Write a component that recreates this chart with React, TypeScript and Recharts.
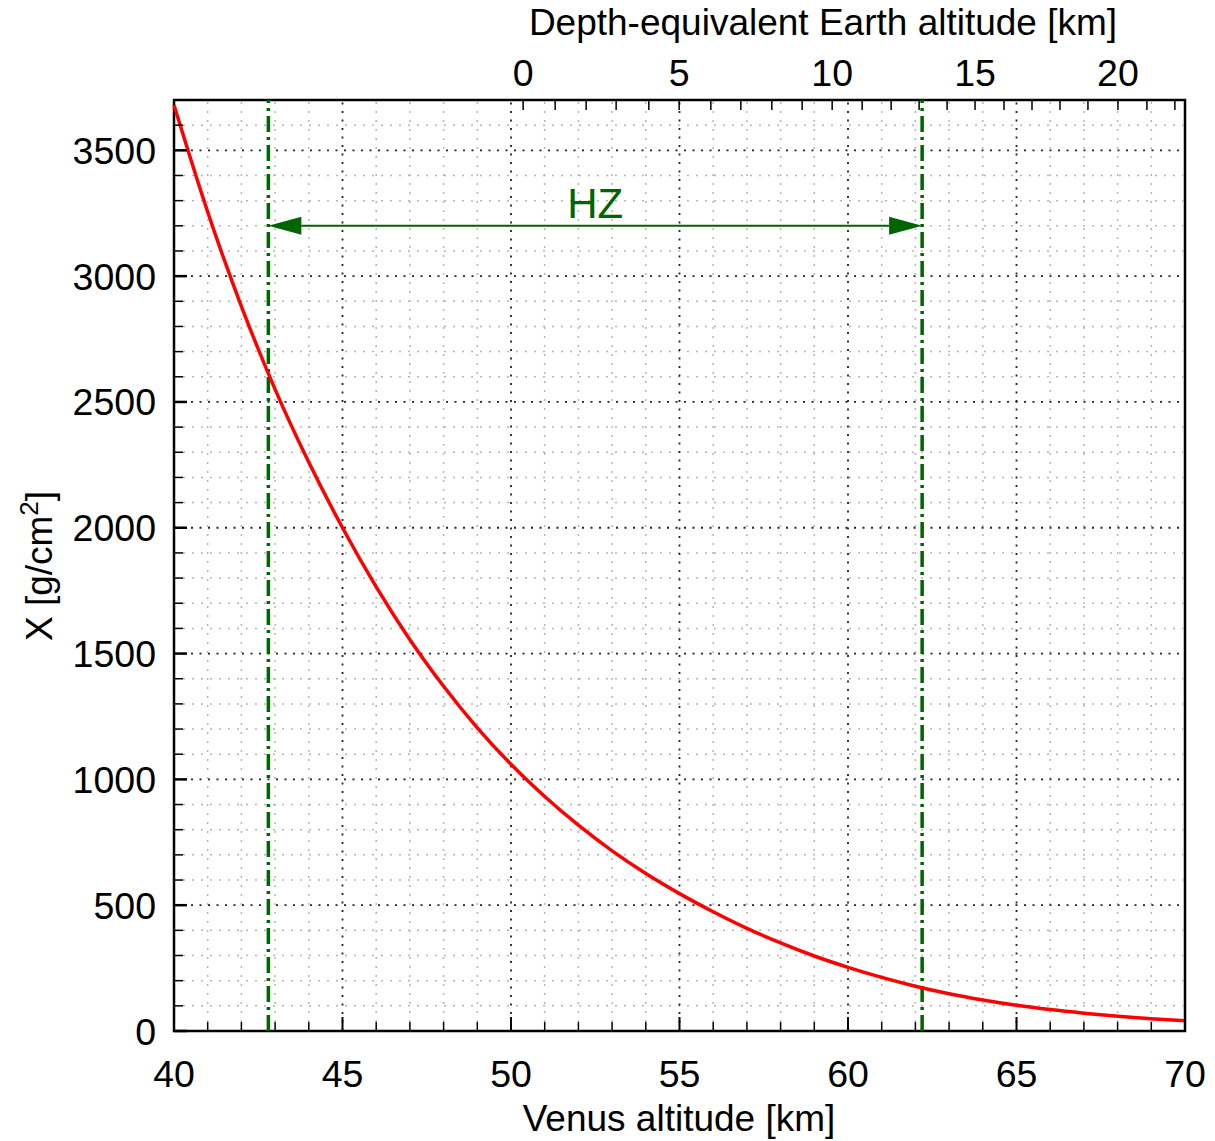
import { Line, LineChart, ReferenceArea, ReferenceLine, XAxis, YAxis } from "recharts";

// Venus altitude [km] and column depth X [g/cm^2]
const venusAltitude = [
  40, 41, 42, 43, 44, 45, 46, 47, 48, 49, 50, 51, 52, 53, 54, 55,
  56, 57, 58, 59, 60, 61, 62, 63, 64, 65, 66, 67, 68, 69, 70,
];
const columnDepth = [
  3680, 3255, 2880, 2550, 2260, 2000, 1765, 1555, 1370, 1205, 1060, 932, 818, 716, 626, 546,
  474, 408, 350, 298, 253, 213, 178, 148, 123, 102, 85, 71, 59, 49, 41,
];

// top axis: Earth altitude [km] and the Venus altitude where each tick sits
const earthAltitude = [0, 1, 2, 3, 4, 5, 6, 7, 8, 9, 10, 11, 12, 13, 14, 15, 16, 17, 18, 19, 20, 21, 22];
const earthAtVenus = [
  50.36, 51.31, 52.23, 53.12, 54.09, 54.99, 55.93, 56.82, 57.74, 58.64, 59.53, 60.42,
  61.28, 62.11, 62.94, 63.77, 64.63, 65.46, 66.29, 67.12, 68.01, 68.87, 69.7,
];

const bottomTicks = [40, 41, 42, 43, 44, 45, 46, 47, 48, 49, 50, 51, 52, 53, 54, 55, 56, 57, 58, 59, 60, 61, 62, 63, 64, 65, 66, 67, 68, 69, 70];
const leftTicks = [
  0, 100, 200, 300, 400, 500, 600, 700, 800, 900, 1000, 1100, 1200, 1300, 1400, 1500, 1600, 1700, 1800,
  1900, 2000, 2100, 2200, 2300, 2400, 2500, 2600, 2700, 2800, 2900, 3000, 3100, 3200, 3300, 3400, 3500, 3600,
];

// habitable zone bounds and the arrow height
const hzBounds = [42.8, 62.2];
const hzArrowLevel = 3200;

const data = venusAltitude.map((h, i) => ({ h, x: columnDepth[i] }));

const FONT = "'Liberation Sans', Arial, sans-serif";
const GREEN = "#006400";
const TICK_FONT = 37.5;
const TITLE_FONT = 37;
const PLOT = { left: 174, right: 1185, top: 100, bottom: 1031 };

function BottomTick(props: any) {
  const { x, payload } = props;
  const major = payload.value % 5 === 0;
  return (
    <g>
      <line x1={x} x2={x} y1={PLOT.bottom} y2={PLOT.bottom - (major ? 14 : 9)} stroke="#000" strokeWidth={major ? 2 : 1.5} />
      {major && (
        <text x={x} y={1087} textAnchor="middle" fontSize={TICK_FONT} fontFamily={FONT} fill="#000">
          {payload.value}
        </text>
      )}
    </g>
  );
}

function LeftTick(props: any) {
  const { y, payload } = props;
  const major = payload.value % 500 === 0;
  return (
    <g>
      <line x1={PLOT.left} x2={PLOT.left + (major ? 13 : 9)} y1={y} y2={y} stroke="#000" strokeWidth={major ? 2.5 : 1.5} />
      {major && (
        <text x={156} y={y + 13.5} textAnchor="end" fontSize={TICK_FONT} fontFamily={FONT} fill="#000">
          {payload.value}
        </text>
      )}
    </g>
  );
}

function TopTick(props: any) {
  const { x, index } = props;
  const km = earthAltitude[index];
  return (
    <g>
      <line x1={x} x2={x} y1={PLOT.top} y2={PLOT.top + 10} stroke="#000" strokeWidth={1.5} />
      {km % 5 === 0 && (
        <text x={x} y={86} textAnchor="middle" fontSize={TICK_FONT} fontFamily={FONT} fill="#000">
          {km}
        </text>
      )}
    </g>
  );
}

function HzArrow(props: any) {
  const { x1, x2, y1 } = props;
  const len = 33;
  const half = 9;
  const mid = (x1 + x2) / 2;
  return (
    <g>
      <line x1={x1 + len} x2={x2 - len} y1={y1} y2={y1} stroke={GREEN} strokeWidth={2} />
      <polygon points={`${x1},${y1} ${x1 + len},${y1 - half} ${x1 + len},${y1 + half}`} fill={GREEN} />
      <polygon points={`${x2},${y1} ${x2 - len},${y1 - half} ${x2 - len},${y1 + half}`} fill={GREEN} />
      <text x={mid} y={y1 - 8} textAnchor="middle" fontSize={42} fontFamily={FONT} fill={GREEN}>
        HZ
      </text>
    </g>
  );
}

export default function App() {
  const minorX = bottomTicks.filter((v) => v % 5 !== 0);
  const majorX = bottomTicks.filter((v) => v % 5 === 0 && v > 40 && v < 70);
  const minorY = leftTicks.filter((v) => v % 500 !== 0);
  const majorY = leftTicks.filter((v) => v % 500 === 0 && v > 0);

  return (
    <div style={{ position: "absolute", left: 0, top: 0, width: 1215, height: 1141, background: "#fff" }}>
      <LineChart width={1215} height={1141} data={data} margin={{ top: 0, right: 30, bottom: 0, left: 0 }}>
        <XAxis
          xAxisId="bottom"
          dataKey="h"
          type="number"
          orientation="bottom"
          domain={[40, 70]}
          ticks={bottomTicks}
          interval={0}
          height={110}
          axisLine={false}
          tickLine={false}
          tick={<BottomTick />}
          label={{
            content: () => (
              <text x={679} y={1131} textAnchor="middle" fontSize={TITLE_FONT} fontFamily={FONT} fill="#000">
                Venus altitude [km]
              </text>
            ),
          }}
        />
        <XAxis
          xAxisId="top"
          dataKey="h"
          type="number"
          orientation="top"
          domain={[40, 70]}
          ticks={earthAtVenus}
          interval={0}
          height={100}
          axisLine={false}
          tickLine={false}
          tick={<TopTick />}
          label={{
            content: () => (
              <text x={823} y={35} textAnchor="middle" fontSize={TITLE_FONT} fontFamily={FONT} fill="#000">
                Depth-equivalent Earth altitude [km]
              </text>
            ),
          }}
        />
        <YAxis
          yAxisId="left"
          type="number"
          domain={[0, 3700]}
          ticks={leftTicks}
          interval={0}
          width={174}
          axisLine={false}
          tickLine={false}
          tick={<LeftTick />}
          label={{
            content: () => (
              <text
                transform="translate(52, 566) rotate(-90)"
                textAnchor="middle"
                fontSize={TITLE_FONT}
                fontFamily={FONT}
                fill="#000"
              >
                X [g/cm<tspan dy={-14} fontSize={26}>2</tspan>
                <tspan dy={14}>]</tspan>
              </text>
            ),
          }}
        />

        {minorX.map((v) => (
          <ReferenceLine key={`mx${v}`} xAxisId="bottom" yAxisId="left" x={v} stroke="#b5b5b5" strokeWidth={1.5} strokeDasharray="2 7" />
        ))}
        {minorY.map((v) => (
          <ReferenceLine key={`my${v}`} xAxisId="bottom" yAxisId="left" y={v} stroke="#b5b5b5" strokeWidth={1.5} strokeDasharray="2 7" />
        ))}
        {majorX.map((v) => (
          <ReferenceLine key={`Mx${v}`} xAxisId="bottom" yAxisId="left" x={v} stroke="#222" strokeWidth={1.8} strokeDasharray="2 6.5" />
        ))}
        {majorY.map((v) => (
          <ReferenceLine key={`My${v}`} xAxisId="bottom" yAxisId="left" y={v} stroke="#222" strokeWidth={1.8} strokeDasharray="2 6.5" />
        ))}

        {hzBounds.map((v) => (
          <ReferenceLine key={`hz${v}`} xAxisId="bottom" yAxisId="left" x={v} stroke={GREEN} strokeWidth={3.5} strokeDasharray="16 5 3 5" />
        ))}
        <ReferenceLine
          xAxisId="bottom"
          yAxisId="left"
          segment={[
            { x: hzBounds[0], y: hzArrowLevel },
            { x: hzBounds[1], y: hzArrowLevel },
          ]}
          shape={HzArrow}
        />

        <Line
          xAxisId="bottom"
          yAxisId="left"
          dataKey="x"
          type="monotone"
          stroke="#ff0000"
          strokeWidth={3.5}
          dot={false}
          isAnimationActive={false}
        />

        <ReferenceArea
          xAxisId="bottom"
          yAxisId="left"
          x1={40}
          x2={70}
          y1={0}
          y2={3700}
          fill="none"
          fillOpacity={0}
          stroke="#000"
          strokeWidth={2.5}
        />
      </LineChart>
    </div>
  );
}
